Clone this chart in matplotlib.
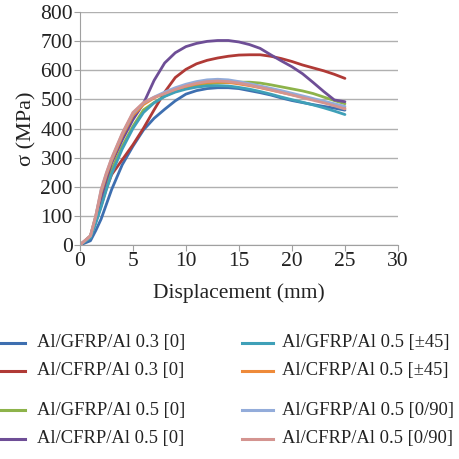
import matplotlib
matplotlib.use('Agg')
import matplotlib.pyplot as plt
from matplotlib.lines import Line2D

plt.rcParams['font.family'] = ['Liberation Serif', 'DejaVu Serif']

# Data
disp = [0, 1, 1.5, 2, 2.5, 3, 4, 5, 6, 7, 8, 9, 10, 11, 12, 13, 14, 15, 16, 17, 18, 19, 20, 21, 22, 23, 24, 25]
gfrp03_0 = [0, 15, 50, 89, 140, 191, 276, 339, 395, 435, 466, 495, 518, 530, 537, 540, 540, 537, 530, 523, 515, 505, 496, 489, 482, 476, 470, 463]
cfrp03_0 = [0, 30, 80, 134, 195, 242, 293, 344, 401, 464, 525, 575, 603, 622, 634, 642, 648, 652, 653, 653, 648, 640, 630, 618, 608, 598, 586, 572]
gfrp05_0 = [0, 30, 95, 165, 215, 259, 339, 407, 464, 489, 511, 528, 540, 548, 553, 556, 558, 559, 559, 556, 550, 543, 536, 529, 520, 508, 496, 485]
cfrp05_0 = [0, 30, 90, 160, 225, 282, 361, 430, 486, 565, 625, 660, 681, 692, 699, 702, 702, 697, 688, 675, 653, 632, 612, 588, 558, 527, 498, 492]
gfrp05_45 = [0, 25, 75, 130, 190, 245, 330, 400, 455, 488, 510, 525, 535, 542, 546, 547, 546, 541, 535, 527, 518, 508, 499, 490, 481, 471, 460, 448]
cfrp05_45 = [0, 32, 100, 180, 240, 290, 375, 445, 482, 505, 522, 535, 545, 553, 558, 560, 558, 553, 547, 540, 532, 524, 516, 508, 500, 491, 481, 470]
gfrp05_090 = [0, 32, 100, 188, 246, 297, 382, 452, 488, 508, 525, 540, 552, 561, 567, 569, 567, 561, 554, 546, 538, 530, 521, 512, 503, 494, 485, 476]
cfrp05_090 = [0, 32, 100, 190, 248, 299, 384, 455, 489, 507, 520, 534, 546, 555, 561, 563, 561, 556, 549, 541, 533, 524, 515, 506, 497, 488, 478, 467]

labels = ['Al/GFRP/Al 0.3 [0]', 'Al/CFRP/Al 0.3 [0]', 'Al/GFRP/Al 0.5 [0]', 'Al/CFRP/Al 0.5 [0]',
          'Al/GFRP/Al 0.5 [\u00b145]', 'Al/CFRP/Al 0.5 [\u00b145]', 'Al/GFRP/Al 0.5 [0/90]', 'Al/CFRP/Al 0.5 [0/90]']
series = [gfrp03_0, cfrp03_0, gfrp05_0, cfrp05_0, gfrp05_45, cfrp05_45, gfrp05_090, cfrp05_090]
colors = ['#3E6FB0', '#B03A36', '#8DB34A', '#6E4E96', '#3FA0B8', '#EE8A3A', '#93ACDA', '#D49490']

fig = plt.figure(figsize=(4.59, 4.59), dpi=100)
ax = fig.add_axes([0.174, 0.466, 0.693, 0.508])

for y, c in zip(series, colors):
    ax.plot(disp, y, color=c, linewidth=2.0, solid_capstyle='round', solid_joinstyle='round')

ax.set_xlim(0, 30)
ax.set_ylim(0, 800)
ax.set_xticks(range(0, 31, 5))
ax.set_yticks(range(0, 801, 100))
ax.yaxis.grid(True, color='#b0b0b0', linewidth=1)
ax.set_axisbelow(True)
for s in ['top', 'right']:
    ax.spines[s].set_visible(False)
for s in ['left', 'bottom']:
    ax.spines[s].set_color('#a0a0a0')
ax.tick_params(colors='#a0a0a0', labelcolor='#222222', labelsize=15.5, length=4, pad=1)
ax.set_xlabel('Displacement (mm)', fontsize=15.5, color='#222222', labelpad=9)
ax.set_ylabel('\u03c3 (MPa)', fontsize=16, color='#222222', labelpad=3)

# legend drawn by hand, two columns under the plot
rows = [343, 371, 410, 439]
for i, (lab, c) in enumerate(zip(labels, colors)):
    col = i // 4
    yy = 1 - rows[i % 4] / 459
    if col == 0:
        x0, x1, xt = -2 / 459, 25 / 459, 37 / 459
    else:
        x0, x1, xt = 242 / 459, 273 / 459, 282 / 459
    fig.add_artist(Line2D([x0, x1], [yy, yy], color=c, linewidth=2.2, transform=fig.transFigure))
    fig.text(xt, yy, lab, fontsize=13.3, va='center', ha='left', color='#222222')

fig.savefig('out.png', dpi=100)
